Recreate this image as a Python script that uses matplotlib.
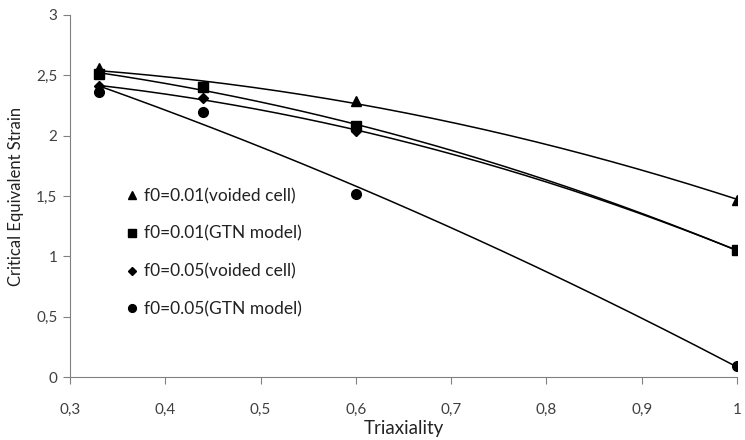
import numpy as np
import matplotlib
matplotlib.use("Agg")
import matplotlib.pyplot as plt
from matplotlib.ticker import FuncFormatter

plt.rcParams['font.family'] = ['Lato', 'DejaVu Sans']

x = [0.33, 0.44, 0.6, 1.0]
tri_voided_001 = [2.56, 2.41, 2.29, 1.47]
sq_gtn_001 = [2.51, 2.40, 2.08, 1.05]
dia_voided_005 = [2.41, 2.31, 2.04, 1.05]
circ_gtn_005 = [2.36, 2.20, 1.52, 0.09]
labels = ["f0=0.01(voided cell)", "f0=0.01(GTN model)", "f0=0.05(voided cell)", "f0=0.05(GTN model)"]
markers = ["^", "s", "D", "o"]
msizes = [7.5, 6.5, 5, 7]

fig = plt.figure(figsize=(7.45, 4.4), dpi=100)
ax = fig.add_axes([70/745, 1 - 377/440, (737-70)/745, (377-15)/440])

xs = np.linspace(0.33, 1.0, 200)
handles = []
for ys, m, ms, lab in zip([tri_voided_001, sq_gtn_001, dia_voided_005, circ_gtn_005], markers, msizes, labels):
    c = np.polyfit(x, ys, 2)
    ax.plot(xs, np.polyval(c, xs), color='black', lw=1.1, zorder=2)
    h, = ax.plot(x, ys, linestyle='none', marker=m, ms=ms, color='black', zorder=3, label=lab)
    handles.append(h)

ax.set_xlim(0.3, 1.0)
ax.set_ylim(0, 3)
ax.set_xticks(np.arange(0.3, 1.01, 0.1))
ax.set_yticks(np.arange(0, 3.01, 0.5))
fmt = FuncFormatter(lambda v, p: ('%g' % round(v, 2)).replace('.', ','))
ax.xaxis.set_major_formatter(fmt)
ax.yaxis.set_major_formatter(fmt)
for s in ['top', 'right']:
    ax.spines[s].set_visible(False)
for s in ['left', 'bottom']:
    ax.spines[s].set_color('#808080')
ax.tick_params(direction='out', length=5, color='#808080', labelsize=11, labelcolor='#404040')
ax.tick_params(axis='x', pad=14)
ax.tick_params(axis='y', pad=4)

ax.set_xlabel("Triaxiality", fontsize=13.5, color='#222222', labelpad=2)
ax.set_ylabel("Critical Equivalent Strain", fontsize=12, color='#222222', labelpad=9)

leg = ax.legend(handles=handles, loc='upper left', bbox_to_anchor=(119/745, 1 - 181/440),
                bbox_transform=fig.transFigure, frameon=False, fontsize=12.5,
                labelspacing=1.25, handlelength=0.7, handletextpad=0.35, borderaxespad=0,
                markerscale=0.8)
for t in leg.get_texts():
    t.set_color('#222222')

fig.savefig("out.png", dpi=100)
